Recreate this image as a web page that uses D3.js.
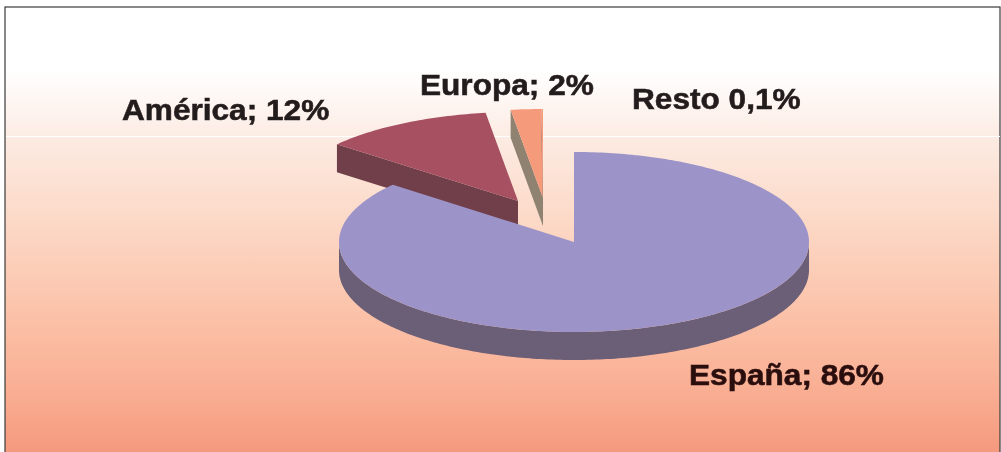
<!DOCTYPE html>
<html><head><meta charset="utf-8">
<script src="https://cdn.jsdelivr.net/npm/d3@7/dist/d3.min.js"></script>
<style>html,body{margin:0;padding:0;background:#fff}svg{display:block}</style>
</head><body><svg id="c" width="1001" height="452"></svg>
<script>
const categories = ["España","América","Europa","Resto"];
const values = [86,11.8,2.1,0.1];
const labels = ["España; 86%","América; 12%","Europa; 2%","Resto 0,1%"];
const topColors = ["#9C94C8","#A65061","#F59A7B","#F59A7B"];
const sideColors = ["#6A5F76","#713F4A","#8F8270","#8F8270"];
const textColors = ["#2A0C0C","#241C1C","#241C1C","#241C1C"];

const W=1001,H=452,cx=574,cy=242,rx=235,ry=90,ryExploded=89,depth=28;
const explode = {"España":[0,0],"América":[-56,-41],"Europa":[-31,-44],"Resto":[-31,-44]};
const labelPos = {"España":[689,384.5],"América":[122,120],"Europa":[420,95],"Resto":[632,109]};

const svg=d3.select("#c");
const defs=svg.append("defs");
const g=defs.append("linearGradient").attr("id","bg").attr("x1",0).attr("x2",0).attr("y1",0).attr("y2",1);
[[0,"#ffffff"],[0.14,"#ffffff"],[0.3,"#FCEAE1"],[0.5,"#FCD6C3"],[0.7,"#FBC0A6"],[0.85,"#F9AE93"],[1,"#F4977B"]]
 .forEach(([o,c])=>g.append("stop").attr("offset",o).attr("stop-color",c));
const f=defs.append("filter").attr("id","soft").attr("x","-5%").attr("y","-20%").attr("width","110%").attr("height","140%");
f.append("feGaussianBlur").attr("stdDeviation",0.45);

svg.append("rect").attr("x",5).attr("y",7).attr("width",995).attr("height",H).attr("fill","url(#bg)").attr("stroke","#3a3a3a").attr("stroke-width",1.2);
svg.append("line").attr("x1",6).attr("x2",1000).attr("y1",136.5).attr("y2",136.5).attr("stroke","#fff").attr("stroke-width",1);

const pie=d3.pie().sort(null)(values);
const px=d3.scaleLinear().domain([-1,1]).range([-rx,rx]);
const pointFor=(a,r)=>[px(Math.sin(a)),-Math.cos(a)*r];
const line=d3.line();
const samples=(a0,a1,r)=>{const n=Math.max(2,Math.ceil((a1-a0)*60));return d3.range(n+1).map(i=>pointFor(a0+(a1-a0)*i/n,r));};

const order=[1,2,3,0];
order.forEach(i=>{
  const d=pie[i],[dx,dy]=explode[categories[i]];
  const r=i===0?ry:ryExploded;
  const s=svg.append("g").attr("transform",`translate(${cx+dx},${cy+dy})`);
  const p0=pointFor(d.startAngle,r);
  if(i===0){
    const rim=samples(Math.PI/2,3*Math.PI/2,r);
    s.append("path").attr("fill",sideColors[i])
     .attr("d",line(rim.concat(rim.slice().reverse().map(q=>[q[0],q[1]+depth])))+"Z");
  } else {
    s.append("path").attr("fill",sideColors[i])
     .attr("d",line([p0,[0,0],[0,depth],[p0[0],p0[1]+depth]])+"Z");
  }
  s.append("path").attr("fill",topColors[i])
   .attr("d",line([[0,0]].concat(samples(d.startAngle,d.endAngle,r)))+"Z");
});

labels.forEach((t,i)=>{
  const [x,y]=labelPos[categories[i]];
  svg.append("text").attr("transform",`translate(${x},${y}) scale(1,0.96)`).text(t)
    .attr("font-family","'Liberation Sans',Arial,sans-serif").attr("font-weight","bold")
    .attr("font-size",31.6).attr("fill",textColors[i])
    .attr("stroke",textColors[i]).attr("stroke-width",0.6).attr("filter","url(#soft)");
});
</script></body></html>
